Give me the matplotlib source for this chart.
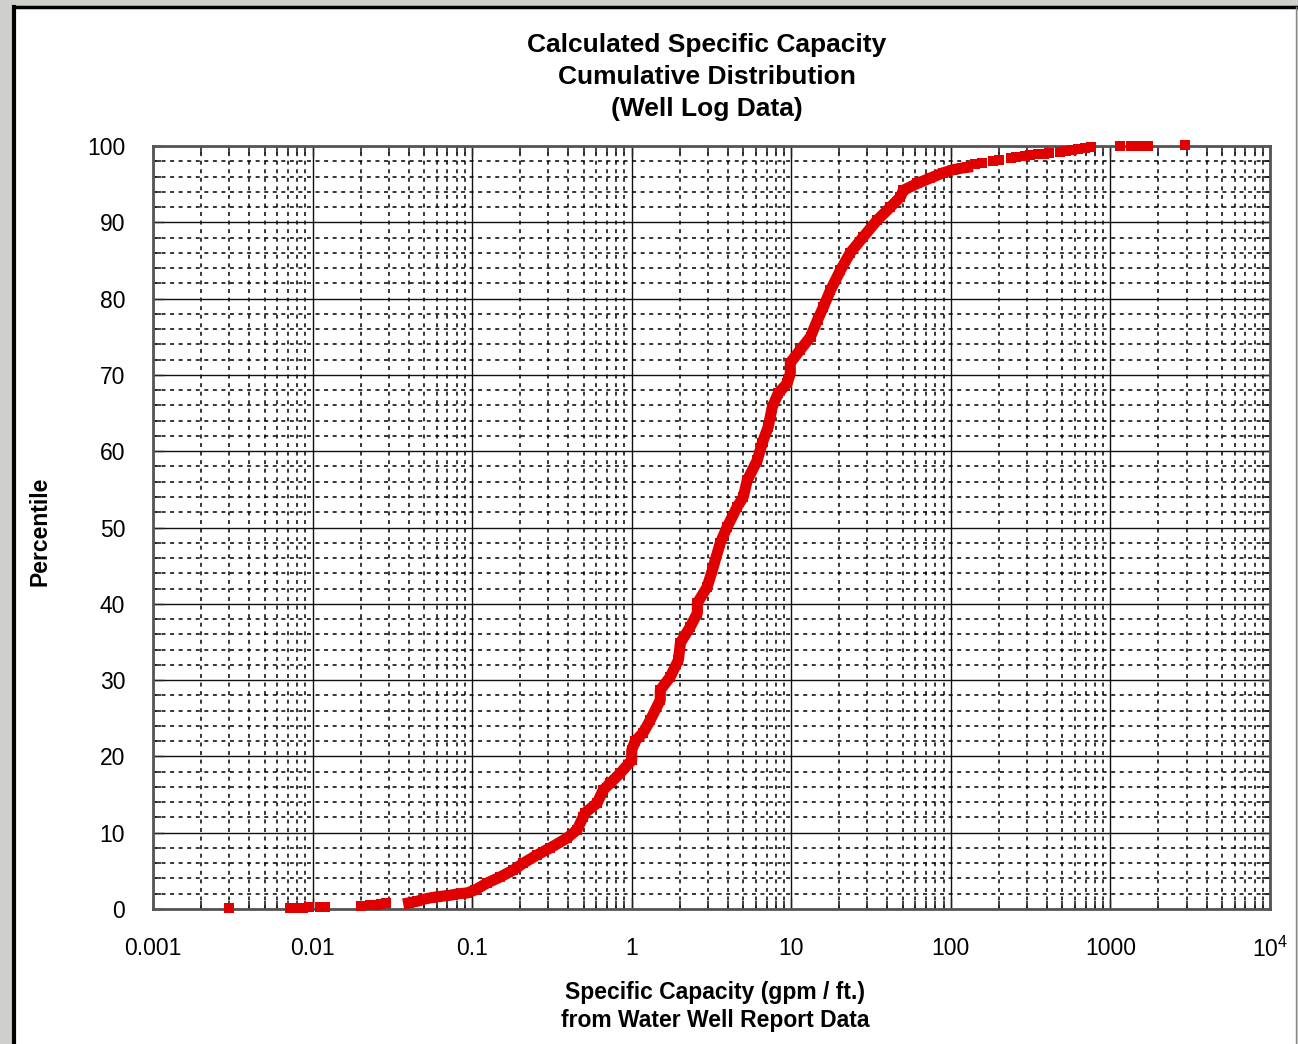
import matplotlib
matplotlib.use("Agg")
import matplotlib.pyplot as plt
from matplotlib.ticker import LogLocator, FixedLocator, MultipleLocator, NullFormatter
from matplotlib.patches import Rectangle
from matplotlib.lines import Line2D

plt.rcParams['font.family'] = ['Liberation Sans', 'DejaVu Sans']
plt.rcParams['mathtext.default'] = 'regular'

# ---- data (specific capacity gpm/ft, percentile) ----
low_x = [0.0030, 0.0072, 0.0079, 0.0087, 0.0095, 0.0112, 0.0120, 0.0201,
         0.0228, 0.0248, 0.0270, 0.0290]
low_y = [0.1, 0.1, 0.1, 0.15, 0.2, 0.25, 0.3, 0.4, 0.5, 0.55, 0.65, 0.75]

body_x = [0.040, 0.045, 0.050, 0.056, 0.0603, 0.066, 0.0728, 0.082, 0.093, 0.1045,
          0.124, 0.150, 0.181, 0.209, 0.256, 0.308, 0.394, 0.455, 0.497, 0.51,
          0.608, 0.663, 0.733, 0.847, 1.0, 1.0, 1.05, 1.18, 1.31, 1.51,
          1.51, 1.74, 1.96, 2.02, 2.33, 2.58, 2.58, 2.97, 3.2, 3.59,
          3.97, 4.58, 5.0, 5.3, 6.12, 6.58, 7.17, 7.6, 8.29, 9.43,
          9.86, 9.86, 11.4, 13.2, 14.6, 15.9, 17.6, 20.3, 23.4, 28.3,
          34.6, 41.8, 48.2, 50.4, 61.7, 74.3, 89.8, 103.7, 117.0, 126.8]
body_y = [0.8, 1.0, 1.3, 1.5, 1.6, 1.7, 1.8, 2.0, 2.1, 2.5,
          3.4, 4.2, 5.1, 6.0, 7.1, 8.0, 9.3, 10.4, 12.1, 12.6,
          13.9, 15.6, 16.5, 17.8, 19.5, 20.8, 22.0, 23.1, 24.8, 27.4,
          28.7, 30.4, 32.6, 34.9, 37.0, 38.8, 40.1, 42.2, 44.4, 48.0,
          50.1, 52.7, 54.0, 56.2, 58.8, 61.1, 63.2, 65.8, 67.6, 68.9,
          70.2, 71.6, 73.3, 75.0, 77.2, 78.9, 81.1, 83.7, 86.0, 88.1,
          90.3, 92.0, 93.3, 94.2, 95.1, 95.8, 96.5, 96.9, 97.1, 97.2]

high_x = [142.6, 156, 184, 200, 239, 256, 293, 314, 354, 386,
          415, 486, 530, 578, 630, 693, 760, 1156, 1355, 1500,
          1730, 2950]
high_y = [97.6, 97.8, 98.0, 98.1, 98.4, 98.5, 98.7, 98.8, 98.9, 99.0,
          99.1, 99.2, 99.3, 99.5, 99.6, 99.8, 99.9, 100.0, 100.0, 100.0,
          100.0, 100.1]

x_ticks = [0.001, 0.01, 0.1, 1, 10, 100, 1000, 10000]
x_tick_labels = ['0.001', '0.01', '0.1', '1', '10', '100', '1000', r'$10^4$']
y_ticks = [0, 10, 20, 30, 40, 50, 60, 70, 80, 90, 100]

RED = '#e00000'

W, H = 1298, 1044
fig = plt.figure(figsize=(W / 100, H / 100), dpi=100)
fig.patch.set_facecolor('#cfcfcb')
# white page
fig.add_artist(Rectangle((14 / W, -0.01), (1296 - 14) / W, (H - 7) / H + 0.01,
                         transform=fig.transFigure, facecolor='white',
                         edgecolor='none', zorder=-10))
fig.add_artist(Line2D([14 / W, 14 / W], [-0.01, 1 - 7 / H], transform=fig.transFigure,
                      color='black', linewidth=3, zorder=-9))
fig.add_artist(Line2D([14 / W, 1296 / W], [1 - 7 / H, 1 - 7 / H], transform=fig.transFigure,
                      color='black', linewidth=2.5, zorder=-9))
fig.add_artist(Line2D([1296 / W, 1296 / W], [-0.01, 1 - 7 / H], transform=fig.transFigure,
                      color='#888888', linewidth=1, zorder=-9))

ax = fig.add_axes([153 / W, 1 - 909 / H, (1270 - 153) / W, (909 - 146) / H])
ax.set_xscale('log')
ax.set_xlim(0.001, 10000)
ax.set_ylim(0, 100)

ax.xaxis.set_major_locator(FixedLocator(x_ticks))
ax.set_xticklabels(x_tick_labels)
ax.xaxis.set_minor_locator(LogLocator(base=10, subs=[2, 3, 4, 5, 6, 7, 8, 9], numticks=20))
ax.xaxis.set_minor_formatter(NullFormatter())
ax.yaxis.set_major_locator(FixedLocator(y_ticks))
ax.yaxis.set_minor_locator(MultipleLocator(2))

ax.grid(which='major', color='#111111', linestyle='-', linewidth=1.0)
ax.grid(which='minor', color='#000000', linestyle=(0, (2.6, 3.0)), linewidth=1.1)
ax.set_axisbelow(True)

ax.tick_params(which='both', direction='in', top=True, right=True, colors='#222222')
ax.tick_params(which='major', length=8, width=1.0, labelsize=16.5, pad=20,
               labelcolor='black')
ax.tick_params(which='minor', length=6, width=1.2)
for s in ax.spines.values():
    s.set_color('#555555')
    s.set_linewidth(2)

ax.plot(body_x, body_y, color=RED, linewidth=8, marker='s', markersize=7,
        markeredgewidth=0, clip_on=False, zorder=5)
ax.plot(low_x, low_y, linestyle='none', color=RED, marker='s', markersize=7,
        markeredgewidth=0, clip_on=False, zorder=5)
ax.plot(high_x, high_y, linestyle='none', color=RED, marker='s', markersize=7,
        markeredgewidth=0, clip_on=False, zorder=5)

# titles and labels
for txt, yp in [('Calculated Specific Capacity', 45),
                ('Cumulative Distribution', 77),
                ('(Well Log Data)', 109)]:
    fig.text(707 / W, 1 - yp / H, txt, ha='center', va='center',
             fontsize=19, fontweight='bold')
for txt, yp in [('Specific Capacity (gpm / ft.)', 993),
                ('from Water Well Report Data', 1020)]:
    fig.text(715 / W, 1 - yp / H, txt, ha='center', va='center',
             fontsize=16.5, fontweight='bold')
fig.text(40 / W, 1 - 531 / H, 'Percentile', ha='center', va='center',
         rotation=90, fontsize=16.5, fontweight='bold')

fig.savefig('out.png', dpi=100, facecolor=fig.get_facecolor())
